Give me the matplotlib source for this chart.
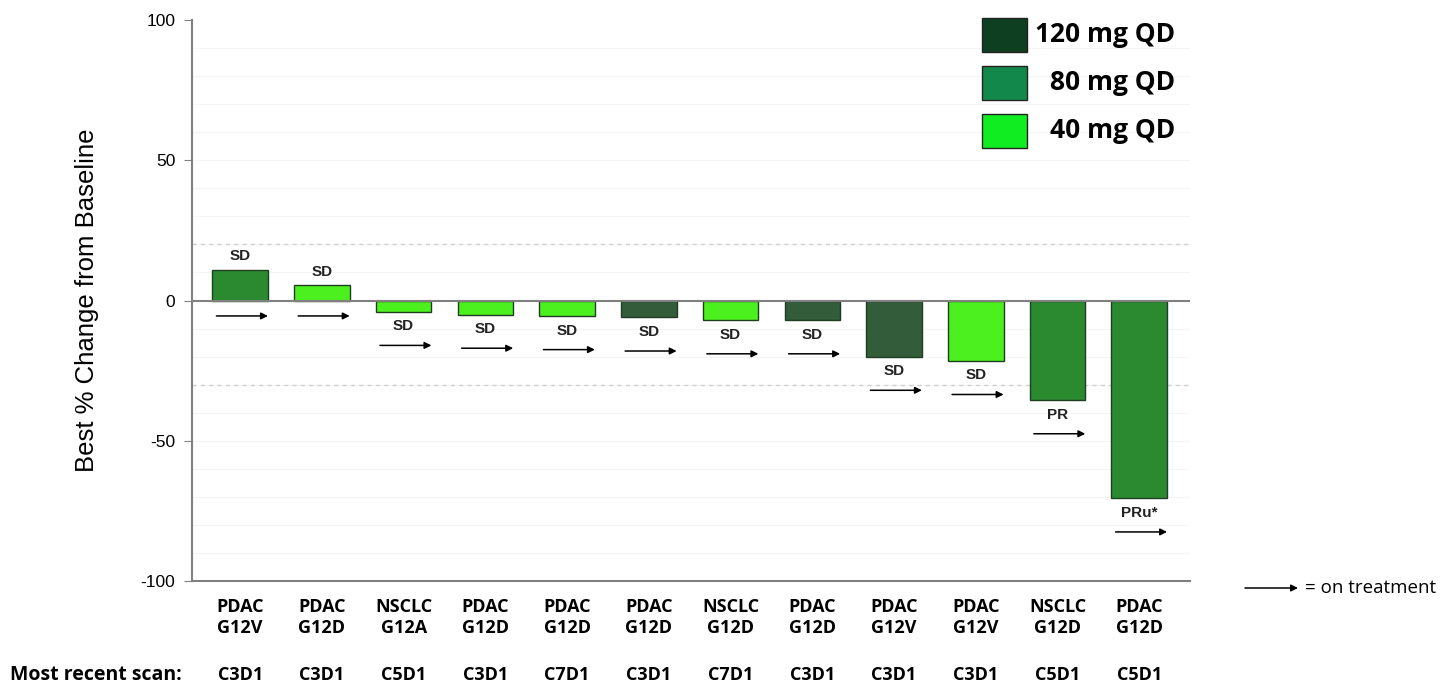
import matplotlib
matplotlib.use("Agg")
import matplotlib.pyplot as plt
from matplotlib.patches import Rectangle
import numpy as np

plt.rcParams['axes.unicode_minus'] = False

# Datos del grafico (lectura aproximada de la imagen)
tumor_types = ['PDAC', 'PDAC', 'NSCLC', 'PDAC', 'PDAC', 'PDAC', 'NSCLC', 'PDAC', 'PDAC', 'PDAC', 'NSCLC', 'PDAC']
mutations = ['G12V', 'G12D', 'G12A', 'G12D', 'G12D', 'G12D', 'G12D', 'G12D', 'G12V', 'G12V', 'G12D', 'G12D']
scans = ['C3D1', 'C3D1', 'C5D1', 'C3D1', 'C7D1', 'C3D1', 'C7D1', 'C3D1', 'C3D1', 'C3D1', 'C5D1', 'C5D1']
best_change = [11, 5.5, -4, -5, -5.5, -6, -7, -7, -20, -21.5, -35.5, -70.5]
doses = [80, 40, 40, 40, 40, 120, 40, 120, 120, 40, 80, 80]
responses = ['SD', 'SD', 'SD', 'SD', 'SD', 'SD', 'SD', 'SD', 'SD', 'SD', 'PR', 'PRu*']
ref_lines = [20, -30]

dose_labels = ['120 mg QD', '80 mg QD', '40 mg QD']
bar_colors = {120: '#335c3b', 80: '#2b8a2f', 40: '#4cf01e'}
legend_colors = {120: '#0e3f20', 80: '#12894a', 40: '#10ee22'}

fig = plt.figure(figsize=(14.42, 6.83), dpi=100)
ax = fig.add_axes([0.1331, 0.1493, 0.6921, 0.8214])

x = np.arange(len(best_change))

# Lineas de fondo
for g in range(-90, 100, 10):
    ax.axhline(g, color='#f5f5f5', lw=0.8, zorder=0)
for r in ref_lines:
    ax.axhline(r, color='#d0d0d0', lw=1, ls=(0, (3, 3)), zorder=0)

ax.bar(x, best_change, width=0.68, color=[bar_colors[d] for d in doses],
       edgecolor='#1f3d22', linewidth=1, zorder=2)
ax.axhline(0, color='#808080', lw=1.5, zorder=3)

# Etiquetas de respuesta y flechas
for i, v in enumerate(best_change):
    if v > 0:
        ax.text(i, v + 4.8, responses[i], ha='center', va='center', fontsize=11,
                fontweight='bold', family='Liberation Sans', color='#222222')
        ya = -5.5
    else:
        ax.text(i, v - 5.2, responses[i], ha='center', va='center', fontsize=11,
                fontweight='bold', family='Liberation Sans', color='#222222')
        ya = v - 12
    ax.annotate('', xy=(i + 0.34, ya), xytext=(i - 0.29, ya),
                arrowprops=dict(arrowstyle='-|>', color='black', lw=1.1,
                                mutation_scale=10, shrinkA=0, shrinkB=0))

ax.set_ylim(-100, 100)
ax.set_xlim(-0.59, 11.62)
ax.set_yticks([-100, -50, 0, 50, 100])
ax.tick_params(axis='y', direction='out', length=6, color='#808080',
               labelsize=12.5, pad=6)
for lab in ax.get_yticklabels():
    lab.set_family('Liberation Sans')
ax.set_xticks(x)
ax.set_xticklabels([t + '\n' + m for t, m in zip(tumor_types, mutations)],
                   fontsize=13, fontweight='bold', family='Open Sans',
                   linespacing=1.25)
ax.tick_params(axis='x', length=0, pad=12)

for s in ['top', 'right']:
    ax.spines[s].set_visible(False)
for s in ['left', 'bottom']:
    ax.spines[s].set_color('#808080')
    ax.spines[s].set_linewidth(1.5)

ax.set_ylabel('Best % Change from Baseline', fontsize=18.5,
              family='Liberation Sans', labelpad=30)

# Fila de escaneo mas reciente
trans = ax.get_xaxis_transform()
for i, s in enumerate(scans):
    ax.text(i, -0.168, s, transform=trans, ha='center', va='center',
            fontsize=13, fontweight='bold', family='Open Sans')
fig.text(0.0069, 1 - 675 / 683, 'Most recent scan:', ha='left', va='center',
         fontsize=14, fontweight='bold', family='Open Sans')

# Leyenda
for k, d in enumerate([120, 80, 40]):
    yc = 1 - (35 + k * 48) / 683
    fig.patches.append(Rectangle((982 / 1442, yc - 17 / 683), 45 / 1442, 34 / 683,
                                 transform=fig.transFigure, facecolor=legend_colors[d],
                                 edgecolor='#222222', lw=1))
    fig.text(1175 / 1442, yc, dose_labels[k], ha='right', va='center',
             fontsize=19, fontweight='bold', family='Open Sans')

# Nota de la flecha
ax.annotate('', xy=(1298 / 1442, 1 - 588 / 683), xytext=(1245 / 1442, 1 - 588 / 683),
            xycoords='figure fraction', textcoords='figure fraction',
            annotation_clip=False,
            arrowprops=dict(arrowstyle='-|>', color='black', lw=1.1,
                            mutation_scale=10, shrinkA=0, shrinkB=0))
fig.text(1305 / 1442, 1 - 588 / 683, '= on treatment', ha='left', va='center',
         fontsize=13.5, family='Open Sans')

fig.savefig('out.png', dpi=100)
